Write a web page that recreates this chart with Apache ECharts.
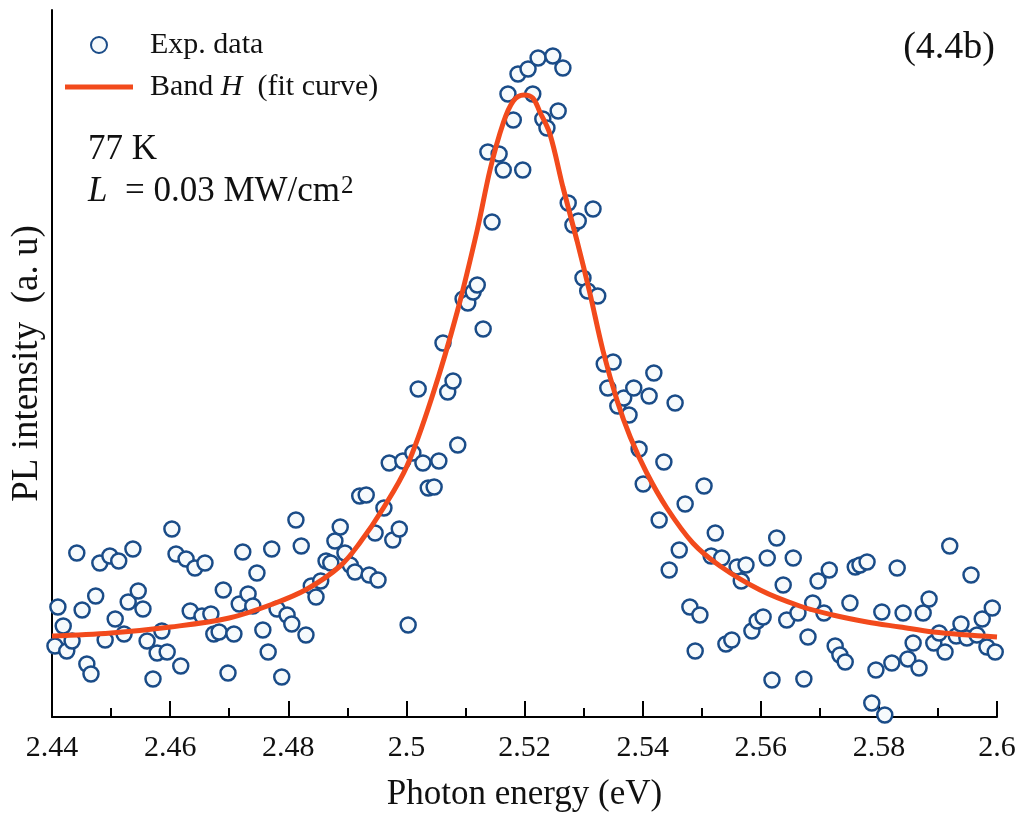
<!DOCTYPE html>
<html>
<head>
<meta charset="utf-8">
<script src="https://cdn.jsdelivr.net/npm/echarts@6/dist/echarts.min.js"></script>
<style>
html,body{margin:0;padding:0;background:#ffffff;}
#chart{width:1023px;height:813px;}
</style>
</head>
<body>
<div id="chart"></div>
<script>
// ---- Experimental data (photon energy in eV, PL intensity in a.u.) ----
const expEnergy = [
  2.4405,2.4410,2.4419,2.4425,2.4434,2.4442,2.4451,2.4459,2.4466,2.4474,
  2.4481,2.4490,2.4498,2.4507,2.4513,2.4522,2.4529,2.4537,2.4546,2.4554,
  2.4561,2.4571,2.4578,2.4586,2.4595,2.4603,2.4610,2.4618,2.4627,2.4634,
  2.4642,2.4654,2.4659,2.4669,2.4674,2.4683,2.4690,2.4698,2.4708,2.4717,
  2.4723,2.4732,2.4740,2.4747,2.4757,2.4766,2.4772,2.4781,2.4789,2.4798,
  2.4806,2.4813,2.4822,2.4830,2.4839,2.4847,2.4855,2.4864,2.4872,2.4879,
  2.4888,2.4896,2.4905,2.4913,2.4921,2.4932,2.4937,2.4947,2.4952,2.4962,
  2.4977,2.4988,2.4971,2.4994,2.5003,2.5011,2.5020,2.5028,2.5037,2.5047,
  2.5055,2.5062,2.5070,2.5079,2.5087,2.5096,2.5104,2.5113,2.5120,2.5130,
  2.5138,2.5145,2.5157,2.5164,2.5172,2.5181,2.5189,2.5197,2.5206,2.5214,
  2.5223,2.5231,2.5238,2.5248,2.5257,2.5265,2.5274,2.5282,2.5291,2.5299,
  2.5307,2.5316,2.5324,2.5335,2.5341,2.5350,2.5358,2.5368,2.5377,2.5385,
  2.5394,2.5401,2.5411,2.5419,2.5428,2.5436,2.5445,2.5455,2.5462,2.5472,
  2.5480,2.5489,2.5497,2.5504,2.5516,2.5523,2.5534,2.5541,2.5551,2.5560,
  2.5567,2.5575,2.5585,2.5594,2.5604,2.5611,2.5619,2.5627,2.5638,2.5644,
  2.5655,2.5663,2.5673,2.5680,2.5688,2.5697,2.5707,2.5716,2.5726,2.5734,
  2.5743,2.5751,2.5760,2.5768,2.5780,2.5788,2.5795,2.5805,2.5810,2.5822,
  2.5831,2.5841,2.5849,2.5858,2.5868,2.5875,2.5885,2.5893,2.5902,2.5912,
  2.5920,2.5931,2.5939,2.5949,2.5956,2.5966,2.5975,2.5983,2.5992,2.5997
];
const expIntensity = [
  71,110,91,66,76,164,107,53,43,121,
  154,77,161,98,156,83,115,168,126,108,
  76,38,64,86,65,188,163,51,158,106,
  149,101,154,103,83,85,127,44,83,113,
  165,123,111,144,87,65,168,108,40,102,
  93,197,171,82,131,120,136,156,154,176,
  190,164,152,145,221,222,142,184,137,209,
  177,188,254,256,92,264,328,254,229,230,
  256,374,325,336,272,418,414,425,432,388,
  565,495,563,547,623,597,643,547,648,623,
  659,598,589,661,606,649,514,492,496,439,
  426,508,421,353,329,355,311,319,302,329,
  268,233,321,344,197,255,147,314,167,213,
  110,66,102,231,161,184,159,73,77,150,
  136,152,86,96,100,159,37,179,132,97,
  159,104,38,80,114,136,104,147,71,62,
  55,114,150,152,155,14,47,105,2,54,
  149,104,58,74,49,104,118,74,84,65,
  171,81,93,79,142,82,98,70,109,65
];

// ---- Fit curve (Band H) ----
const fitEnergy = [
  2.4400,2.4500,2.4601,2.4700,2.4774,2.4832,2.4888,2.4921,2.4960,2.5001,
  2.5045,2.5086,2.5120,2.5142,2.5164,2.5181,2.5199,2.5214,2.5226,2.5243,
  2.5265,2.5289,2.5311,2.5333,2.5357,2.5379,2.5407,2.5441,2.5485,2.5531,
  2.5599,2.5666,2.5722,2.5780,2.5836,2.5892,2.6000
];
const fitIntensity = [
  81,84,90,99,113,128,151,174,208,251,
  323,405,487,548,594,616,622,619,605,583,
  530,476,423,366,316,280,244,209,174,151,
  127,111,102,95,90,85,80
];

// ---- Axis settings ----
const xMin = 2.44, xMax = 2.60, xStep = 0.02;
const yMin = 0, yMax = 707;

const SERIF = '"Liberation Serif", "Times New Roman", serif';
const BLUE = '#1A4C88';
const RED = '#F24A1C';

const chart = echarts.init(document.getElementById('chart'), null, {renderer: 'canvas'});

const scatterData = expEnergy.map((e, i) => [e, expIntensity[i]]);
const fitData = fitEnergy.map((e, i) => [e, fitIntensity[i]]);

chart.setOption({
  backgroundColor: '#ffffff',
  animation: false,
  grid: {left: 52, right: 26, top: 10, bottom: 96, containLabel: false, outerBoundsMode: 'none'},
  legend: {
    orient: 'vertical',
    left: 65,
    top: 30,
    padding: 0,
    itemWidth: 68,
    itemHeight: 16,
    itemGap: 12,
    selectedMode: false,
    data: [
      {name: 'Exp. data'},
      {name: 'Band H  (fit curve)', icon: 'path://M0,0 L68,0 L68,5 L0,5 Z'}
    ],
    formatter: function (name) {
      return name === 'Band H  (fit curve)' ? 'Band {i|H}  (fit curve)' : name;
    },
    textStyle: {
      fontFamily: SERIF, fontSize: 30, color: '#111111',
      padding: [0, 0, 0, 12],
      rich: {i: {fontFamily: SERIF, fontSize: 30, fontStyle: 'italic', color: '#111111'}}
    }
  },
  xAxis: {
    type: 'value',
    min: xMin, max: xMax, interval: xStep,
    name: 'Photon energy (eV)',
    nameLocation: 'middle',
    nameGap: 60,
    nameTextStyle: {fontFamily: SERIF, fontSize: 35, color: '#111111'},
    axisLine: {show: true, onZero: false, lineStyle: {color: '#000000', width: 2}},
    axisTick: {show: true, inside: true, length: 16, lineStyle: {color: '#000000', width: 2}},
    minorTick: {show: true, splitNumber: 2, length: 9, lineStyle: {color: '#000000', width: 2}},
    axisLabel: {
      show: true, margin: 16, showMinLabel: true, showMaxLabel: true,
      fontFamily: SERIF, fontSize: 30, color: '#111111',
      formatter: v => String(+v.toFixed(2))
    },
    splitLine: {show: false}
  },
  yAxis: {
    type: 'value',
    min: yMin, max: yMax,
    name: 'PL intensity  (a. u)',
    nameLocation: 'middle',
    nameGap: 6,
    nameTextStyle: {fontFamily: SERIF, fontSize: 37, color: '#111111'},
    axisLine: {show: true, lineStyle: {color: '#000000', width: 2}},
    axisTick: {show: false},
    axisLabel: {show: false},
    splitLine: {show: false}
  },
  series: [
    {
      name: 'Exp. data',
      type: 'scatter',
      symbol: 'circle',
      symbolSize: 15,
      data: scatterData,
      itemStyle: {color: '#F6FAFC', borderColor: BLUE, borderWidth: 2.5, opacity: 1},
      z: 2
    },
    {
      name: 'Band H  (fit curve)',
      type: 'line',
      data: fitData,
      symbol: 'none',
      showSymbol: false,
      smooth: 0.35,
      lineStyle: {color: RED, width: 5},
      itemStyle: {color: RED},
      z: 3
    }
  ],
  graphic: [
    {
      type: 'text', x: 88, y: 150, z: 10,
      style: {text: '77 K', fontFamily: SERIF, fontSize: 35, fill: '#111111', verticalAlign: 'middle'}
    },
    {
      type: 'text', x: 88, y: 192, z: 10,
      style: {
        text: '{i|L}  = 0.03 MW/cm{sup|2}',
        fontFamily: SERIF, fontSize: 35, lineHeight: 36, fill: '#111111', verticalAlign: 'middle',
        rich: {
          i: {fontFamily: SERIF, fontSize: 35, lineHeight: 36, fontStyle: 'italic', fill: '#111111'},
          sup: {fontFamily: SERIF, fontSize: 25, lineHeight: 22, fill: '#111111', verticalAlign: 'top', padding: [0, 0, 0, 1]}
        }
      }
    },
    {
      type: 'text', x: 995, y: 48, z: 10,
      style: {text: '(4.4b)', fontFamily: SERIF, fontSize: 38, fill: '#111111', align: 'right', verticalAlign: 'middle'}
    }
  ]
});
</script>
</body>
</html>
